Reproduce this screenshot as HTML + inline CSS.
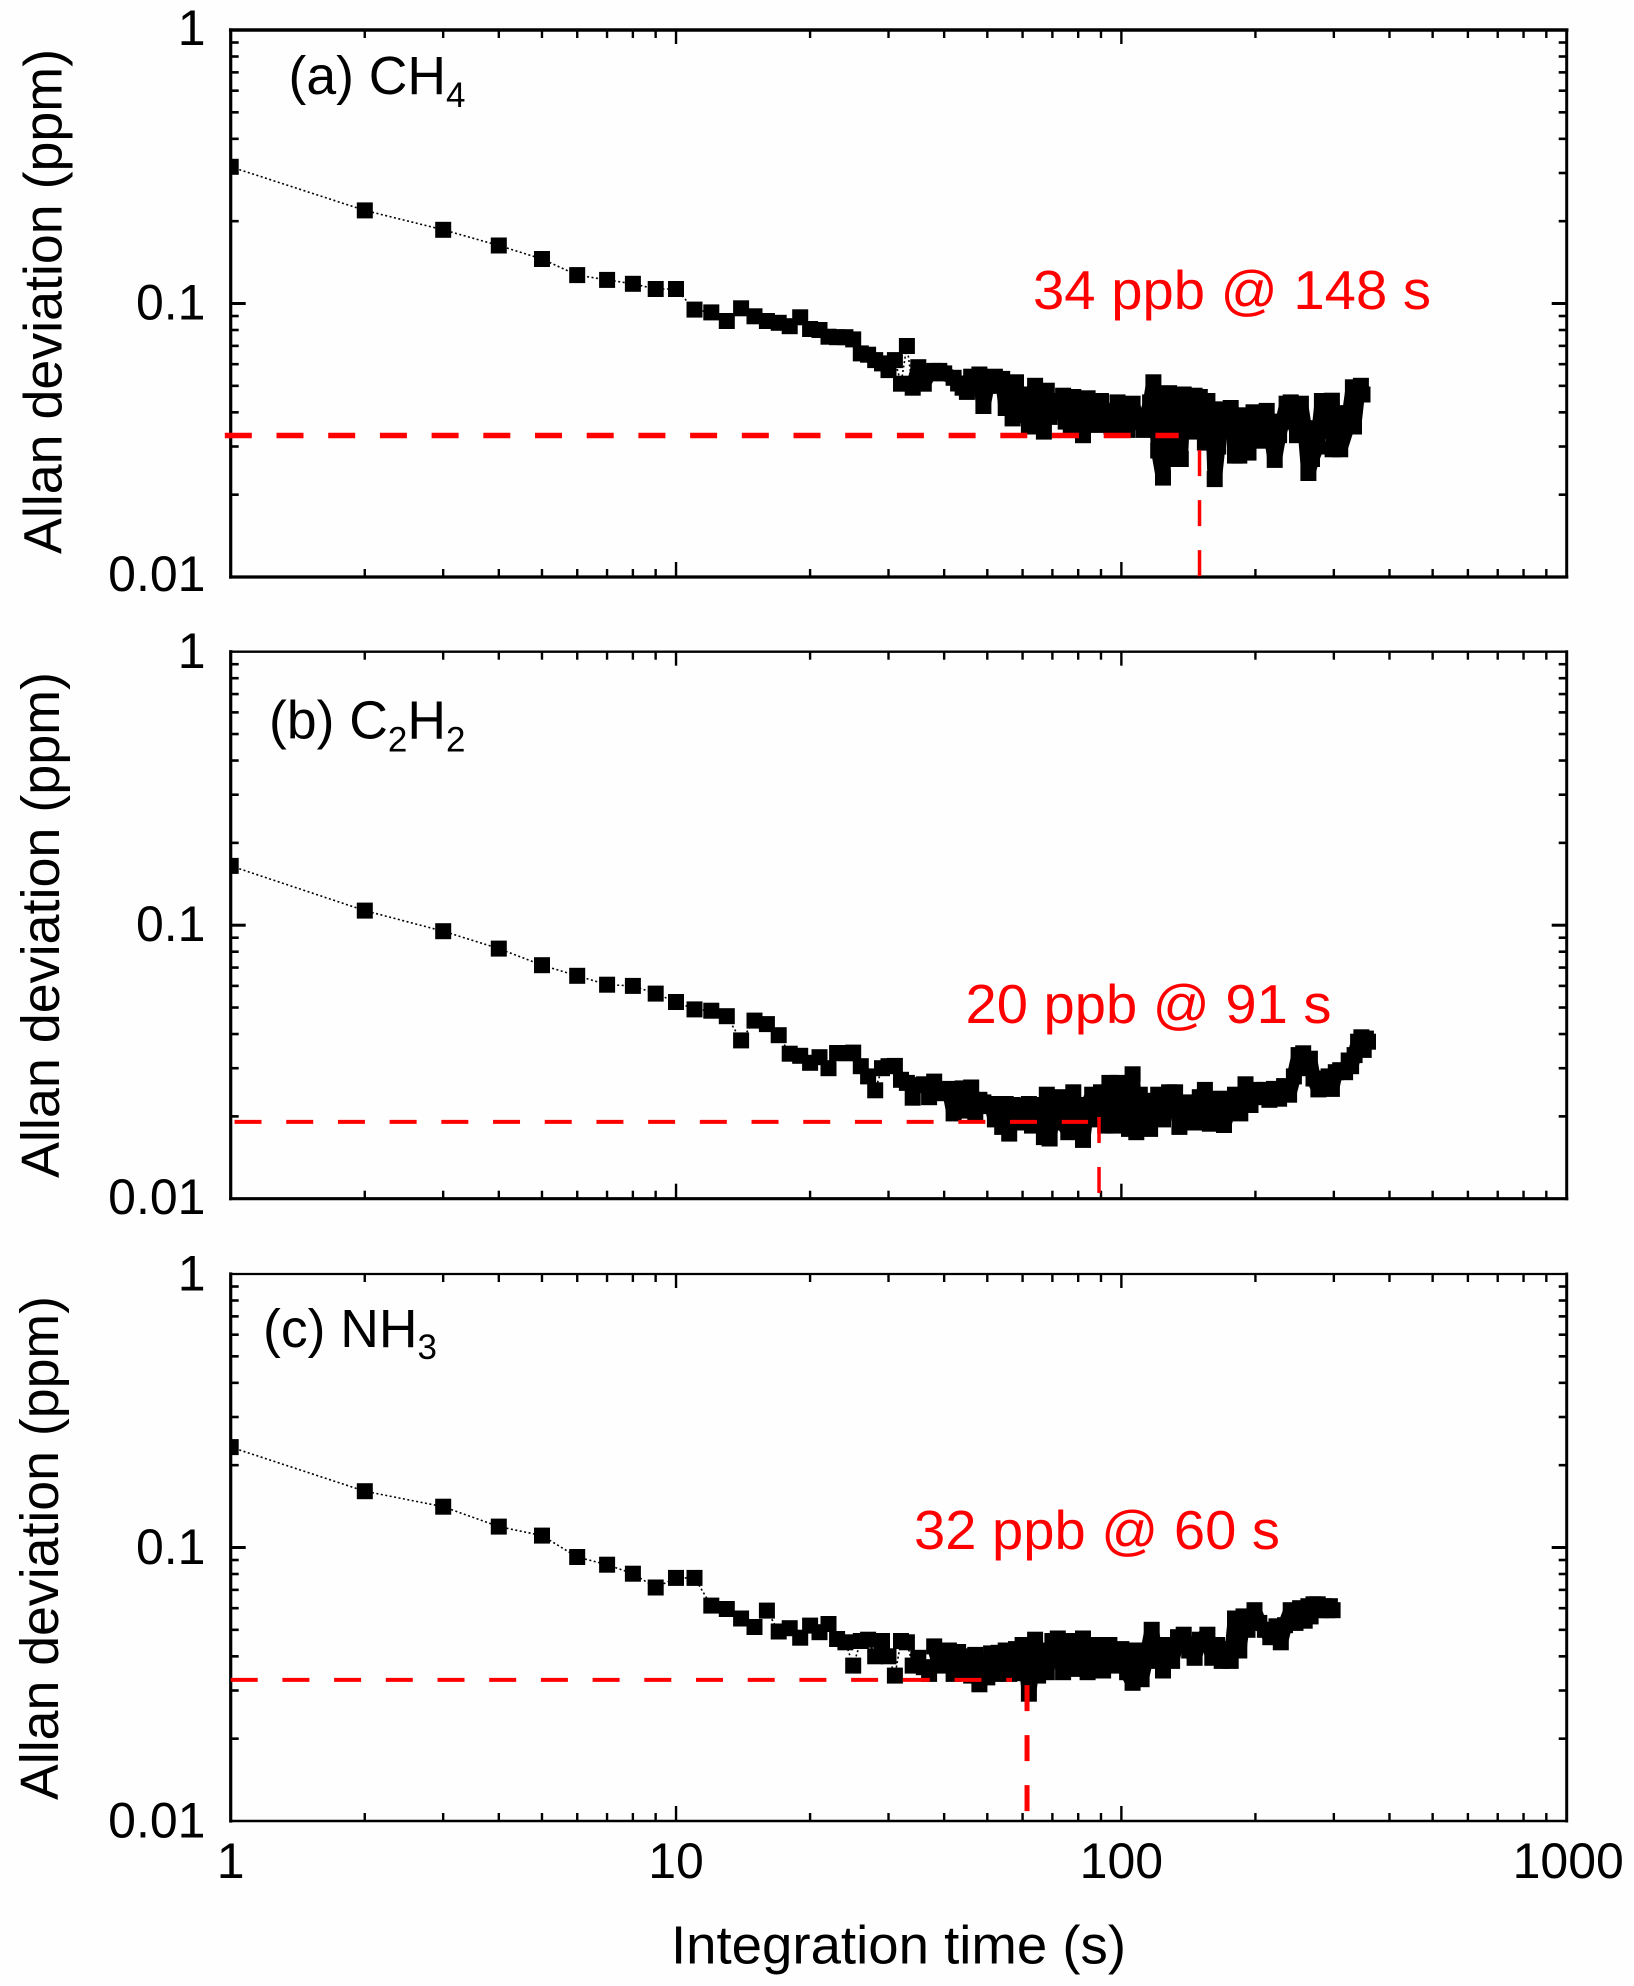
<!DOCTYPE html>
<html lang="en">
<head>
<meta charset="utf-8">
<title>Allan deviation plots for CH4, C2H2 and NH3</title>
<style>
html,body{margin:0;padding:0;background:#fefefe;}
svg{display:block;}
text{font-family:"Liberation Sans",Arial,sans-serif;fill:#000;}
.red{fill:#ff0000;}
</style>
</head>
<body>
<svg id="chart" xmlns="http://www.w3.org/2000/svg" width="1634" height="1986" viewBox="0 0 1634 1986">
  <rect x="0" y="0" width="1634" height="1986" fill="#fefefe"/>
  <g id="panels"></g>

  <text transform="translate(61.5,554) rotate(-90)" font-size="53.5" textLength="505" lengthAdjust="spacingAndGlyphs">Allan deviation (ppm)</text>
  <text transform="translate(59,1178) rotate(-90)" font-size="53.5" textLength="506" lengthAdjust="spacingAndGlyphs">Allan deviation (ppm)</text>
  <text transform="translate(58,1800) rotate(-90)" font-size="53.5" textLength="504" lengthAdjust="spacingAndGlyphs">Allan deviation (ppm)</text>
  <text x="671" y="1963.5" font-size="53.5" textLength="455" lengthAdjust="spacingAndGlyphs">Integration time (s)</text>

  <text x="288.5" y="94" font-size="53.5">(a) CH<tspan font-size="35" dy="13">4</tspan></text>
  <text x="269" y="738.6" font-size="53.5">(b) C<tspan font-size="35" dy="13">2</tspan><tspan dy="-13">H</tspan><tspan font-size="35" dy="13">2</tspan></text>
  <text x="263" y="1347" font-size="53.5">(c) NH<tspan font-size="35" dy="12">3</tspan></text>

  <text class="red" x="1033" y="309" font-size="55" textLength="398" lengthAdjust="spacingAndGlyphs">34 ppb @ 148 s</text>
  <text class="red" x="965.5" y="1023" font-size="55" textLength="366" lengthAdjust="spacingAndGlyphs">20 ppb @ 91 s</text>
  <text class="red" x="914" y="1549" font-size="55" textLength="366" lengthAdjust="spacingAndGlyphs">32 ppb @ 60 s</text>
</svg>

<script>
// ---------- Tick labels ----------
const yTickValues = [1, 0.1, 0.01];
const yTickLabels = ["1", "0.1", "0.01"];
const xTickValues = [1, 10, 100, 1000];
const xTickLabels = ["1", "10", "100", "1000"];
const minorMultipliers = [2, 3, 4, 5, 6, 7, 8, 9];

// ---------- Panel (a) CH4 ----------
const tauA = [
1,2,3,4,5,6,7,8,9,10,
11,12,13,14,15,16,17,18,19,20,
21,22,23,24,25,26,27,28,29,30,
31,32,33,34,35,36,37,38,39,40,
42,43,44,45,46,47,48,49,50,51,
52,53,54,55,56,57,58,59,60,61,
62,63,64,65,66,67,68,69,70,72,
74,75,77,78,80,82,84,85,88,90,
92,95,98,100,103,106,108,112,116,118,
120,121,124,125,128,130,132,134,136,138,
140,143,146,150,152,154,156,158,160,162,
165,168,172,176,180,184,187,190,193,198,
202,206,212,216,221,226,230,235,240,244,
248,253,258,263,268,275,282,290,297,298,
309,310,322,325,331,333,340,345,348
];
const devA = [
.316,.219,.186,.163,.1455,.127,.122,.118,.113,.113,
.095,.0928,.0863,.096,.0898,.0863,.085,.0826,.089,.0807,
.080,.0756,.0753,.0753,.0739,.0657,.065,.0621,.0604,.0571,
.0621,.0509,.0699,.0492,.0585,.0509,.0555,.0567,.0567,.0555,
.0535,.051,.0492,.0475,.054,.05,.055,.0422,.05,.05,
.054,.052,.053,.0415,.051,.038,.0515,.043,.039,.0465,
.0355,.0465,.05,.0355,.043,.034,.048,.0385,.04,.044,
.046,.037,.0355,.0455,.04,.033,.045,.0385,.036,.044,
.0395,.0355,.0435,.038,.0345,.043,.0385,.0345,.0435,.0515,
.037,.029,.0231,.029,.047,.045,.0385,.027,.027,.0465,
.04,.034,.046,.0455,.038,.031,.044,.032,.041,.0228,
.03,.041,.035,.0415,.0278,.0278,.039,.034,.0285,.04,
.035,.0315,.0405,.034,.0268,.033,.037,.043,.0435,.038,
.033,.043,.035,.024,.027,.03,.044,.035,.0441,.0293,
.0397,.0293,.0355,.0397,.0494,.0355,.048,.05,.0465
];
const refDevA = 0.0329;
const refTauA = 149.8;

// ---------- Panel (b) C2H2 ----------
const tauB = [
1,2,3,4,5,6,7,8,9,10,
11,12,13,14,15,16,17,18,19,20,
21,22,23,24,25,26,27,28,29,30,
31,32,33,34,35,36,37,38,39,40,
41,42,43,44,45,46,47,48,49,50,
51,52,53,54,55,56,57,58,59,60,
62,63,65,66,67,68,69,70,72,74,
76,78,80,82,84,86,88,90,92,94,
96,98,100,102,104,106,108,110,113,116,
118,121,124,128,132,135,138,142,146,150,
154,158,162,166,170,175,180,185,190,195,
200,205,210,215,220,226,232,238,244,250,
256,260,265,270,277,285,292,297,303,310,
318,324,328,334,340,346,350,354,358
];
const devB = [
.1647,.1131,.0951,.0821,.0714,.0653,.0606,.0600,.0562,.0524,
.0492,.0487,.0465,.0379,.0448,.0435,.0396,.0339,.0333,.0314,
.0329,.0300,.0341,.0340,.0342,.0305,.0280,.0249,.0300,.0305,
.0306,.0272,.0265,.0234,.0260,.0262,.0235,.0268,.0248,.0243,
.0252,.0205,.0215,.0253,.0210,.0255,.0205,.0230,.0225,.0218,
.0222,.0195,.0217,.0183,.0222,.0173,.0220,.0195,.0218,.0190,
.0222,.0185,.0220,.0195,.0168,.0240,.0166,.0200,.0235,.0190,
.0175,.0245,.0185,.0164,.0220,.0240,.0195,.0245,.0185,.0265,
.0185,.0265,.0200,.0235,.0180,.0285,.0175,.0240,.0210,.0180,
.0228,.0240,.0195,.0245,.0245,.0183,.0210,.0225,.0190,.0235,
.0250,.0188,.0205,.0232,.0186,.0215,.0240,.0205,.0262,.0220,
.0250,.0235,.0250,.0230,.0252,.0232,.0258,.0240,.0280,.0335,
.0340,.0300,.0325,.0275,.0251,.0255,.0280,.0252,.0290,.0295,
.0290,.0320,.0305,.0335,.0375,.0389,.0350,.0385,.0375
];
const refDevB = 0.0191;
const refTauB = 89.1;

// ---------- Panel (c) NH3 ----------
const tauC = [
1,2,3,4,5,6,7,8,9,10,
11,12,13,14,15,16,17,18,19,20,
21,22,23,24,25,26,27,28,29,30,
31,32,33,34,35,36,37,38,39,40,
41,42,43,44,45,46,47,48,49,50,
51,52,53,54,55,56,57,58,59,60,
61,62,63,64,65,66,67,68,70,72,
74,76,78,80,82,84,86,88,91,94,
97,100,103,106,108,111,114,117,120,122,
124,127,130,134,138,142,146,150,156,160,
164,168,172,176,180,184,188,192,199,204,
210,216,223,228,233,240,246,252,258,263,
266,270,276,280,285,290,294,298
];
const devC = [
.2328,.1607,.1410,.1192,.1105,.0923,.0865,.0802,.0714,.0774,
.0774,.0613,.0596,.0550,.0512,.0588,.0493,.0507,.0468,.0518,
.0490,.0525,.0463,.0450,.0370,.0455,.0460,.0400,.0455,.0400,
.0340,.0455,.0450,.0370,.0395,.0365,.0345,.0435,.0370,.0390,
.0420,.0345,.0415,.0355,.0400,.0340,.0405,.0316,.0385,.0335,
.0410,.0345,.0412,.0355,.0420,.0345,.0380,.0425,.0347,.0440,
.0380,.0292,.0355,.0460,.0340,.0420,.0380,.0350,.0455,.0465,
.0350,.0400,.0455,.0360,.0465,.0350,.0420,.0440,.0355,.0440,
.0370,.0425,.0350,.0320,.0420,.0330,.0400,.0500,.0385,.0440,
.0355,.0440,.0385,.0470,.0480,.0420,.0395,.0460,.0480,.0395,
.0440,.0385,.0425,.0385,.0550,.0420,.0560,.0500,.0590,.0530,
.0500,.0470,.0515,.0450,.0520,.0590,.0530,.0600,.0540,.0610,
.0560,.0620,.0620,.0590,.0610,.0590,.0610,.0590
];
const refDevC = 0.0328;
const refTauC = 61.4;

// ---------- Layout and scales ----------
const NS = "http://www.w3.org/2000/svg";
const plotLeft = 230.7;
const plotRight = 1566.7;
const plotHeight = 547;
const xMinDecade = 0;
const xMaxDecade = 3;
const yTopDecade = 0;
const yBottomDecade = -2;
const markerSize = 16;

function xScale(t) {
  return plotLeft + (Math.log10(t) - xMinDecade) / (xMaxDecade - xMinDecade) * (plotRight - plotLeft);
}
function yScale(v, top) {
  return top + (yTopDecade - Math.log10(v)) / (yTopDecade - yBottomDecade) * plotHeight;
}
function make(tag, attrs, parent) {
  const el = document.createElementNS(NS, tag);
  for (const k in attrs) el.setAttribute(k, attrs[k]);
  parent.appendChild(el);
  return el;
}

function drawPanel(cfg) {
  const root = document.getElementById("panels");
  const g = make("g", {}, root);
  
  

  const clipId = "clip-" + cfg.id;
  const defs = make("defs", {}, g);
  const clip = make("clipPath", { id: clipId }, defs);
  make("rect", { x: plotLeft, y: cfg.top - 2, width: plotRight - plotLeft, height: plotHeight + 4 }, clip);

  const top = cfg.top;
  const bottom = top + plotHeight;

  // dotted connecting line
  const pts = cfg.tau.map(function (t, i) { return xScale(t).toFixed(1) + "," + yScale(cfg.dev[i], top).toFixed(1); }).join(" ");
  const line = make("polyline", { points: pts, fill: "none", stroke: "#000", "stroke-width": 1.6, "stroke-dasharray": "2 2.5", "clip-path": "url(#" + clipId + ")" }, g);
  
  

  // overlapping squares merge into a solid band where the samples are dense
  const densePts = [];
  cfg.tau.forEach(function (t, i) {
    if (t >= cfg.denseFrom) densePts.push(xScale(t).toFixed(1) + "," + yScale(cfg.dev[i], top).toFixed(1));
  });
  const band = make("polyline", { points: densePts.join(" "), fill: "none", stroke: "#000", "stroke-width": 14.5, "stroke-linejoin": "round" }, g);
  
  

  // square markers
  const mg = make("g", { "clip-path": "url(#" + clipId + ")", fill: "#000" }, g);
  
  
  cfg.tau.forEach(function (t, i) {
    const r = make("rect", {
      x: (xScale(t) - markerSize / 2).toFixed(1),
      y: (yScale(cfg.dev[i], top) - markerSize / 2).toFixed(1),
      width: markerSize,
      height: markerSize
    }, mg);
    
    
  });

  // ticks on all four sides
  const tg = make("g", { stroke: "#000", fill: "none" }, g);
  
  
  function tick(x1, y1, x2, y2, w) {
    const t = make("line", { x1: x1, y1: y1, x2: x2, y2: y2, "stroke-width": w }, tg);
    
    
  }
  xTickValues.forEach(function (base, d) {
    if (d > 0 && d < xTickValues.length - 1) {
      const x = xScale(base);
      tick(x, bottom, x, bottom - 15, 2.4);
      tick(x, top, x, top + 14, 2.4);
    }
    if (d < xTickValues.length - 1) {
      minorMultipliers.forEach(function (m) {
        const x = xScale(base * m);
        tick(x, bottom, x, bottom - 8, 2.4);
        tick(x, top, x, top + 8, 2.4);
      });
    }
  });
  yTickValues.forEach(function (base, d) {
    if (d > 0 && d < yTickValues.length - 1) {
      const y = yScale(base, top);
      tick(plotLeft, y, plotLeft + 15, y, 3);
      tick(plotRight, y, plotRight - 15, y, 3);
    }
    if (d < yTickValues.length - 1) {
      minorMultipliers.forEach(function (m) {
        const y = yScale(base / 10 * m, top);
        tick(plotLeft, y, plotLeft + 8, y, 2.6);
        tick(plotRight, y, plotRight - 8, y, 2.6);
      });
    }
  });

  // frame
  const frame = make("g", { stroke: "#000", "stroke-linecap": "square" }, g);
  
  
  make("line", { x1: plotLeft, y1: top, x2: plotRight, y2: top, "stroke-width": cfg.topWidth }, frame);
  make("line", { x1: plotLeft, y1: bottom, x2: plotRight, y2: bottom, "stroke-width": cfg.bottomWidth }, frame);
  make("line", { x1: plotLeft, y1: top, x2: plotLeft, y2: bottom, "stroke-width": 3.2 }, frame);
  make("line", { x1: plotRight, y1: top, x2: plotRight, y2: bottom, "stroke-width": 3 }, frame);

  // red reference lines
  const h = make("line", {
    x1: xScale(cfg.hStart), y1: yScale(cfg.refDev, top),
    x2: xScale(cfg.hEnd), y2: yScale(cfg.refDev, top),
    stroke: "#ff0000", "stroke-width": cfg.hWidth, "stroke-dasharray": "27 24.7"
  }, g);
  
  
  const v = make("line", {
    x1: xScale(cfg.refTau), y1: yScale(cfg.vStartDev, top),
    x2: xScale(cfg.refTau), y2: bottom,
    stroke: "#ff0000", "stroke-width": cfg.vWidth, "stroke-dasharray": "26 24"
  }, g);
  
  

  // y tick labels
  yTickValues.forEach(function (val, i) {
    const label = make("text", { x: 205.5, y: cfg.labelY[i], "font-size": 50, "text-anchor": "end" }, g);
    label.textContent = yTickLabels[i];
    
    
  });
}

drawPanel({ id: "a", top: 30, tau: tauA, dev: devA, refDev: refDevA, refTau: refTauA, hStart: 0.97, hEnd: 134.5, vStartDev: 0.0291, hWidth: 5.5, vWidth: 3.5, topWidth: 3.5, bottomWidth: 3.2, denseFrom: 34, labelY: [45, 319.5, 591] });
drawPanel({ id: "b", top: 651.7, tau: tauB, dev: devB, refDev: refDevB, refTau: refTauB, hStart: 1.02, hEnd: 84.2, vStartDev: 0.0199, hWidth: 4, vWidth: 3.5, topWidth: 2.4, bottomWidth: 3.2, denseFrom: 40, labelY: [668, 941, 1214] });
drawPanel({ id: "c", top: 1274, tau: tauC, dev: devC, refDev: refDevC, refTau: refTauC, hStart: 1, hEnd: 56.8, vStartDev: 0.0314, hWidth: 4, vWidth: 5, topWidth: 2.2, bottomWidth: 2.4, denseFrom: 38, labelY: [1290.5, 1564, 1837.6] });

// x tick labels below the bottom panel
const svgRoot = document.getElementById("chart");
xTickValues.forEach(function (val, i) {
  const label = make("text", { x: xScale(val) + (i === 3 ? 1.5 : 0), y: 1878, "font-size": 50, "text-anchor": "middle" }, svgRoot);
  label.textContent = xTickLabels[i];
  
  
});
</script>
</body>
</html>
